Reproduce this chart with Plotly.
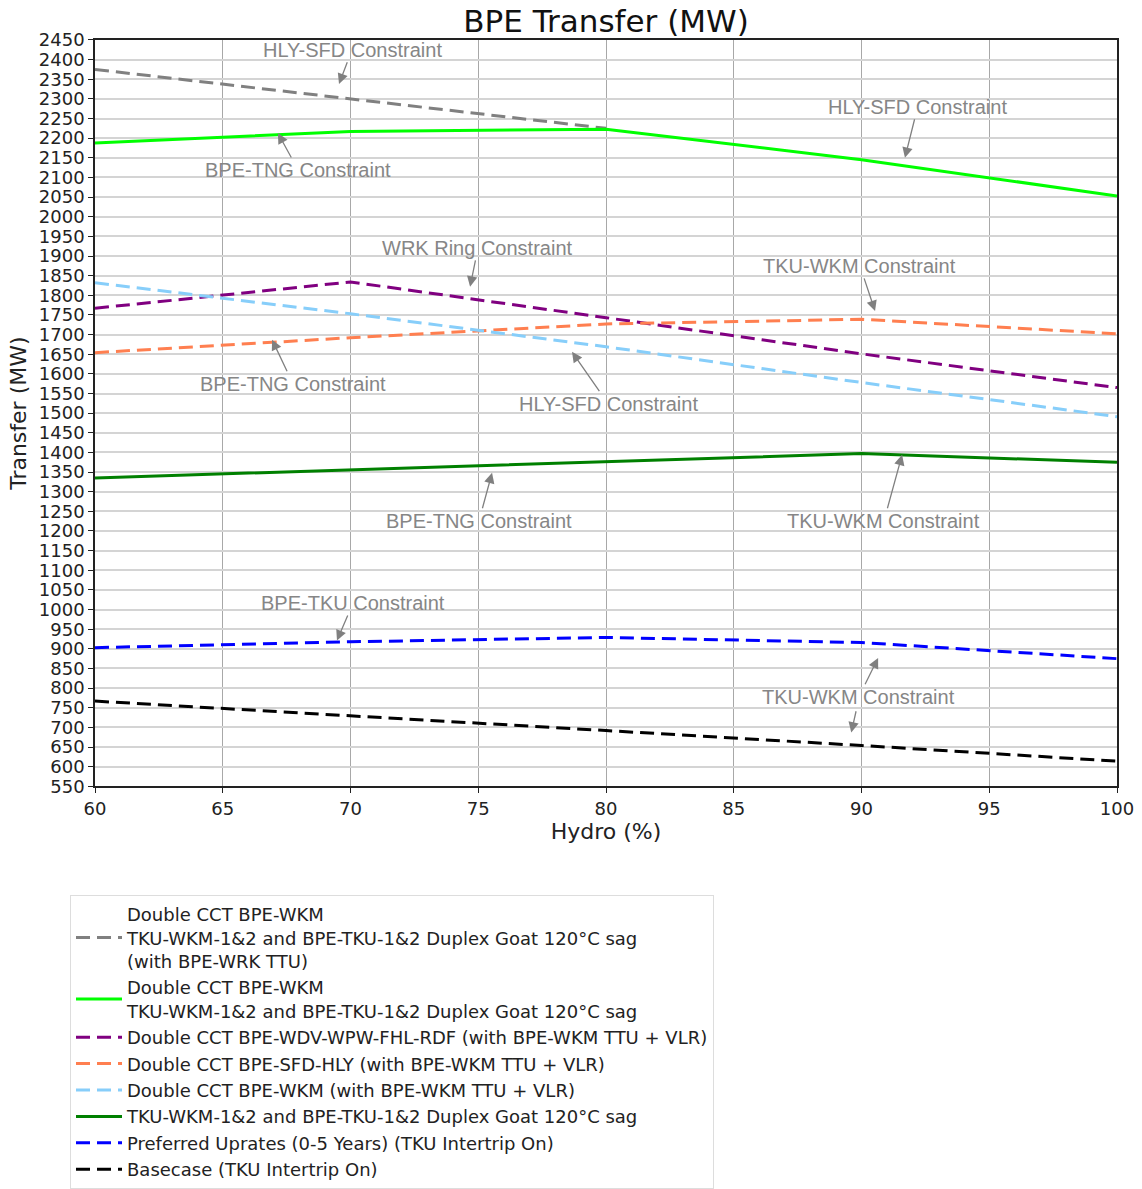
import plotly.graph_objects as go

hydro = [60, 70, 80, 90, 100]

names = [
    "Double CCT BPE-WKM<br>TKU-WKM-1&2 and BPE-TKU-1&2 Duplex Goat 120°C sag<br>(with BPE-WRK TTU)",
    "Double CCT BPE-WKM<br>TKU-WKM-1&2 and BPE-TKU-1&2 Duplex Goat 120°C sag",
    "Double CCT BPE-WDV-WPW-FHL-RDF (with BPE-WKM TTU + VLR)",
    "Double CCT BPE-SFD-HLY (with BPE-WKM TTU + VLR)",
    "Double CCT BPE-WKM (with BPE-WKM TTU + VLR)",
    "TKU-WKM-1&2 and BPE-TKU-1&2 Duplex Goat 120°C sag",
    "Preferred Uprates (0-5 Years) (TKU Intertrip On)",
    "Basecase (TKU Intertrip On)",
]

gray_x = [60, 70, 80]
gray_y = [2375, 2300, 2225]
lime_y = [2188, 2217, 2223, 2145, 2053]
purple_y = [1767, 1834, 1743, 1651, 1565]
orange_y = [1654, 1692, 1727, 1739, 1702]
lightblue_y = [1832, 1753, 1669, 1578, 1491]
darkgreen_y = [1335, 1356, 1376, 1397, 1375]
blue_y = [903, 918, 929, 916, 875]
black_y = [767, 730, 692, 654, 614]

colors = ["#808080", "#00ff00", "#800080", "#ff7f50", "#87cefa", "#008000", "#0000ff", "#000000"]
dashes = ["14px,7px", "solid", "14px,7px", "14px,7px", "14px,7px", "solid", "14px,7px", "14px,7px"]

series_x = [gray_x, hydro, hydro, hydro, hydro, hydro, hydro, hydro]
series_y = [gray_y, lime_y, purple_y, orange_y, lightblue_y, darkgreen_y, blue_y, black_y]

# annotations: text, text x, text y, arrow tip x, arrow tip y
ann_text = ["HLY-SFD Constraint", "BPE-TNG Constraint", "HLY-SFD Constraint",
            "WRK Ring Constraint", "TKU-WKM Constraint", "BPE-TNG Constraint",
            "HLY-SFD Constraint", "BPE-TNG Constraint", "TKU-WKM Constraint",
            "BPE-TKU Constraint", "TKU-WKM Constraint", ""]
ann_tx = [70.06, 67.95, 92.2, 74.99, 89.94, 67.75, 80.08, 75.03, 90.88, 70.1, 89.9, 89.8]
ann_ty = [2425, 2119, 2280, 1921, 1875, 1575, 1524, 1226, 1226, 1017, 778, 745]
ann_px = [69.55, 67.16, 91.7, 74.68, 90.53, 66.93, 78.67, 75.54, 91.59, 69.47, 90.65, 89.6]
ann_py = [2338, 2213, 2150, 1822, 1760, 1687, 1656, 1348, 1394, 921, 877, 687]

W, H = 1142, 1189
PL, PR, PT, PB = 95, 1117, 40, 787

fig = go.Figure()
for nm, c, d, xs, ys in zip(names, colors, dashes, series_x, series_y):
    fig.add_trace(go.Scatter(x=xs, y=ys, mode="lines", name=nm,
                             line=dict(color=c, width=3, dash=d)))

for t, tx, ty, px, py in zip(ann_text, ann_tx, ann_ty, ann_px, ann_py):
    fig.add_annotation(x=px, y=py, ax=tx, ay=ty, xref="x", yref="y", axref="x", ayref="y",
                       text=t, showarrow=True, arrowhead=2, arrowsize=1.6, arrowwidth=1.3,
                       arrowcolor="#808080", standoff=0,
                       font=dict(family="Liberation Sans, Arial", size=20, color="#868686"))

fig.update_layout(
    width=W, height=H,
    margin=dict(l=0, r=0, t=0, b=0),
    paper_bgcolor="white", plot_bgcolor="white",
    title=dict(text="BPE Transfer (MW)", x=606 / W, xanchor="center", y=1 - 21 / H, yanchor="middle",
               font=dict(family="DejaVu Sans", size=31, color="#111")),
    font=dict(family="DejaVu Sans", color="#222"),
    showlegend=True,
    legend=dict(x=70 / W, y=1 - 896 / H, xanchor="left", yanchor="top",
                bgcolor="white", bordercolor="#dddddd", borderwidth=1,
                font=dict(family="DejaVu Sans", size=18, color="#222"),
                itemwidth=46, tracegroupgap=0),
)
fig.update_xaxes(domain=[PL / W, PR / W], range=[60, 100], dtick=5, tick0=60, automargin=False,
                 showgrid=True, gridcolor="#a8a8a8", gridwidth=1,
                 showline=True, linecolor="#222", linewidth=1.5, mirror=True,
                 ticks="outside", ticklen=5, tickcolor="#222",
                 tickfont=dict(size=18, color="#222"), zeroline=False,
                 title=dict(text="Hydro (%)", font=dict(size=22, color="#222"), standoff=6))
fig.update_yaxes(domain=[1 - PB / H, 1 - PT / H], range=[550, 2450], dtick=50, tick0=550,
                 automargin=False,
                 showgrid=True, gridcolor="#d4d4d4", gridwidth=2,
                 showline=True, linecolor="#222", linewidth=1.5, mirror=True,
                 ticks="outside", ticklen=5, tickcolor="#222",
                 tickfont=dict(size=18, color="#222"), zeroline=False,
                 title=dict(text="Transfer (MW)", font=dict(size=22, color="#222"), standoff=6))

fig.write_html("out.html")
